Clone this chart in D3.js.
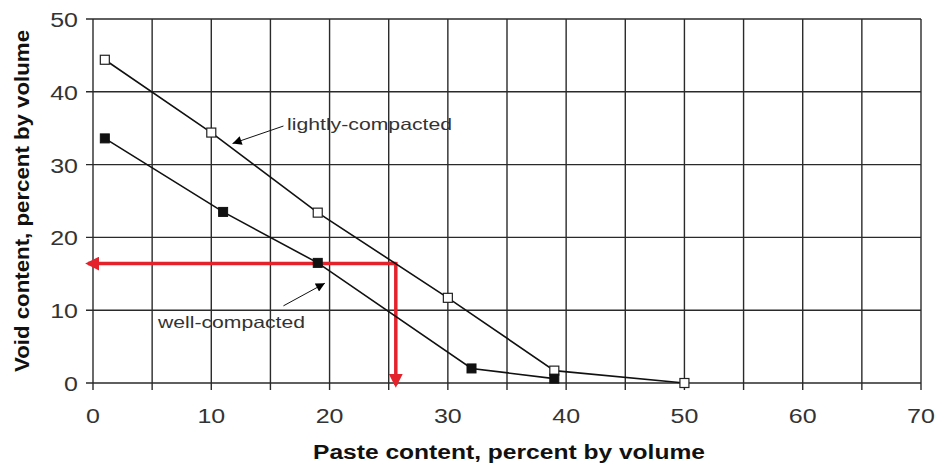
<!DOCTYPE html>
<html><head><meta charset="utf-8">
<script src="https://cdn.jsdelivr.net/npm/d3@7"></script>
<style>body{margin:0;background:#fff}svg{display:block}text{font-family:"Liberation Sans",Arial,sans-serif}</style>
</head><body><svg id="c" width="937" height="464"></svg>
<script>
const xTicks = [0,10,20,30,40,50,60,70];
const xGrid = [0,5,10,15,20,25,30,35,40,45,50,55,60,65,70];
const yTicks = [0,10,20,30,40,50];
const lightX = [1,10,19,30,39,50];
const lightY = [44.4,34.4,23.4,11.7,1.7,0];
const wellX = [1,11,19,32,39];
const wellY = [33.6,23.5,16.5,2.0,0.6];
const redPoint = [25.6,16.4];
const labels = ["lightly-compacted","well-compacted"];
const xTitle = "Paste content, percent by volume";
const yTitle = "Void content, percent by volume";

const svg = d3.select("#c");
const m = {l:93,r:16,t:19,b:81};
const W = 937, H = 464;
const x = d3.scaleLinear().domain([0,70]).range([m.l, W-m.r]);
const y = d3.scaleLinear().domain([0,50]).range([H-m.b, m.t]);

const defs = svg.append("defs");
defs.append("marker").attr("id","ab").attr("viewBox","0 0 10 10").attr("refX",10).attr("refY",5)
  .attr("markerWidth",12).attr("markerHeight",9).attr("markerUnits","userSpaceOnUse").attr("orient","auto")
  .append("path").attr("d","M0,0L10,5L0,10z").attr("fill","#000");
defs.append("marker").attr("id","ar").attr("viewBox","0 0 10 10").attr("refX",8).attr("refY",5)
  .attr("markerWidth",4).attr("markerHeight",4).attr("orient","auto")
  .append("path").attr("d","M0,0L10,5L0,10z").attr("fill","#e3222c");

const g = svg.append("g");
g.selectAll(".vg").data(xGrid).join("line")
  .attr("x1",d=>x(d)).attr("x2",d=>x(d)).attr("y1",y(50)).attr("y2",y(0)+7)
  .attr("stroke","#2a2a2a").attr("stroke-width",1.4);
g.selectAll(".hg").data(yTicks).join("line")
  .attr("x1",x(0)-7).attr("x2",x(70)).attr("y1",d=>y(d)).attr("y2",d=>y(d))
  .attr("stroke","#2a2a2a").attr("stroke-width",1.4);

g.selectAll(".xt").data(xTicks).join("text")
  .attr("transform",d=>`translate(${x(d)},${y(0)+40}) scale(1.25,1)`).attr("text-anchor","middle")
  .attr("font-size",20).attr("fill","#333").text(d=>d);
g.selectAll(".yt").data(yTicks).join("text")
  .attr("transform",d=>`translate(${x(0)-15},${y(d)+8}) scale(1.25,1)`).attr("text-anchor","end")
  .attr("font-size",20).attr("fill","#333").text(d=>d);

svg.append("text").attr("x",313).attr("y",459).attr("textLength",392).attr("lengthAdjust","spacingAndGlyphs")
  .attr("font-size",19.5).attr("font-weight","bold").attr("fill","#111").text(xTitle);
svg.append("text").attr("transform",`translate(29,372) rotate(-90)`).attr("textLength",342).attr("lengthAdjust","spacingAndGlyphs")
  .attr("font-size",19.5).attr("font-weight","bold").attr("fill","#111").text(yTitle);

const rx = x(redPoint[0]), ry = y(redPoint[1]);
svg.append("line").attr("x1",rx).attr("y1",ry).attr("x2",x(0)-5).attr("y2",ry)
  .attr("stroke","#e3222c").attr("stroke-width",3.5).attr("marker-end","url(#ar)");
svg.append("line").attr("x1",rx).attr("y1",ry-1.7).attr("x2",rx).attr("y2",y(0)+2)
  .attr("stroke","#e3222c").attr("stroke-width",3.5).attr("marker-end","url(#ar)");

const line = d3.line().x(d=>x(d[0])).y(d=>y(d[1]));
const light = lightX.map((v,i)=>[v,lightY[i]]);
const well = wellX.map((v,i)=>[v,wellY[i]]);
svg.append("path").attr("d",line(light)).attr("fill","none").attr("stroke","#111").attr("stroke-width",1.6);
svg.append("path").attr("d",line(well)).attr("fill","none").attr("stroke","#111").attr("stroke-width",1.6);
const s = 9;
svg.selectAll(".ml").data(light).join("rect")
  .attr("x",d=>x(d[0])-s/2).attr("y",d=>y(d[1])-s/2).attr("width",s).attr("height",s)
  .attr("fill","#fff").attr("stroke","#222").attr("stroke-width",1.2);
svg.selectAll(".mw").data(well).join("rect")
  .attr("x",d=>x(d[0])-s/2).attr("y",d=>y(d[1])-s/2).attr("width",s).attr("height",s)
  .attr("fill","#111").attr("stroke","#111").attr("stroke-width",1);

svg.append("text").attr("x",287).attr("y",130).attr("textLength",165).attr("lengthAdjust","spacingAndGlyphs")
  .attr("font-size",16.5).attr("fill","#333").text(labels[0]);
svg.append("line").attr("x1",x(16.1)).attr("y1",y(35.3)).attr("x2",x(11.8)).attr("y2",y(32.9))
  .attr("stroke","#111").attr("stroke-width",1).attr("marker-end","url(#ab)");
svg.append("text").attr("x",158).attr("y",328).attr("textLength",147).attr("lengthAdjust","spacingAndGlyphs")
  .attr("font-size",16.5).attr("fill","#333").text(labels[1]);
svg.append("line").attr("x1",x(16.1)).attr("y1",y(10.6)).attr("x2",x(19.6)).attr("y2",y(13.7))
  .attr("stroke","#111").attr("stroke-width",1).attr("marker-end","url(#ab)");
</script></body></html>
